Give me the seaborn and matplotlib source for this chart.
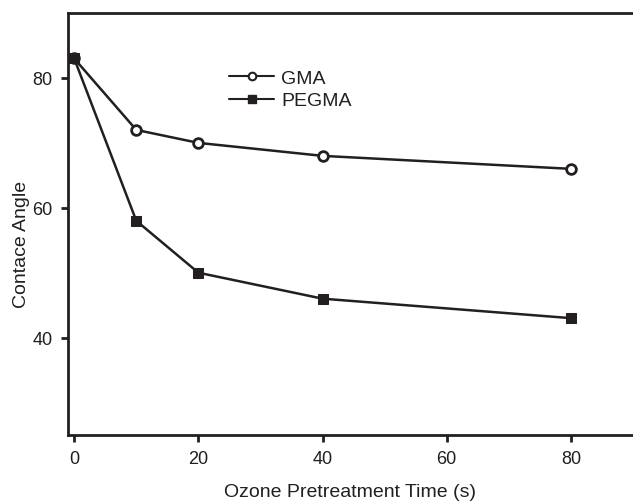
import numpy as np
import pandas as pd
import matplotlib
matplotlib.use("Agg")
import matplotlib.pyplot as plt
from matplotlib.lines import Line2D
import seaborn as sns

# Ozone pretreatment time (s) and measured contact angles
time_s = [0, 10, 20, 40, 80]
gma_angle = [83, 72, 70, 68, 66]
pegma_angle = [83, 58, 50, 46, 43]
series_names = ["GMA", "PEGMA"]
x_ticks = [0, 20, 40, 60, 80]
y_ticks = [40, 60, 80]

INK = "#231f20"

df = pd.DataFrame({
    "time": time_s * 2,
    "angle": gma_angle + pegma_angle,
    "series": [series_names[0]] * len(time_s) + [series_names[1]] * len(time_s),
})

sns.set_theme(style="white")
plt.rcParams["font.family"] = ["Liberation Sans", "DejaVu Sans"]

fig = plt.figure(figsize=(6.33, 5.02), dpi=100)
ax = fig.add_axes([0.1074, 0.1315, 0.8926, 0.8405])

sns.lineplot(
    data=df, x="time", y="angle", hue="series", style="series",
    markers={"GMA": "o", "PEGMA": "s"}, dashes=False,
    palette={"GMA": INK, "PEGMA": INK},
    linewidth=1.8, markersize=7, ax=ax, legend=False,
)
# open circles for GMA, filled squares for PEGMA
lines = ax.get_lines()
lines[0].set_markerfacecolor("white")
lines[0].set_markeredgecolor(INK)
lines[0].set_markeredgewidth(2)
lines[0].set_markersize(7)
lines[1].set_markerfacecolor(INK)
lines[1].set_markeredgecolor(INK)
lines[1].set_markersize(6.5)

handles = [
    Line2D([], [], color=INK, lw=1.5, marker="o", markersize=5.5,
           markerfacecolor="white", markeredgewidth=1.5),
    Line2D([], [], color=INK, lw=1.5, marker="s", markersize=5.5,
           markerfacecolor=INK),
]
ax.legend(handles, series_names, loc="upper left", bbox_to_anchor=(0.272, 0.885),
          frameon=False, fontsize=14, handlelength=2.3, handletextpad=0.35,
          labelspacing=0.25, borderaxespad=0, labelcolor=INK)

ax.set_xlim(-1, 90)
ax.set_ylim(25, 90)
ax.set_xticks(x_ticks)
ax.set_yticks(y_ticks)
ax.set_xlabel("Ozone Pretreatment Time (s)", fontsize=14, color=INK, labelpad=11)
ax.set_ylabel("Contace Angle", fontsize=14, color=INK, labelpad=5)
ax.yaxis.set_label_coords(-0.067, 0.455)
ax.tick_params(axis="both", direction="out", length=5, width=2, color=INK,
               labelsize=13, labelcolor=INK, pad=6,
               bottom=True, left=True)
for side in ["left", "bottom", "top"]:
    ax.spines[side].set_linewidth(2)
    ax.spines[side].set_color(INK)
ax.spines["right"].set_visible(False)

fig.savefig("out.png", dpi=100)
